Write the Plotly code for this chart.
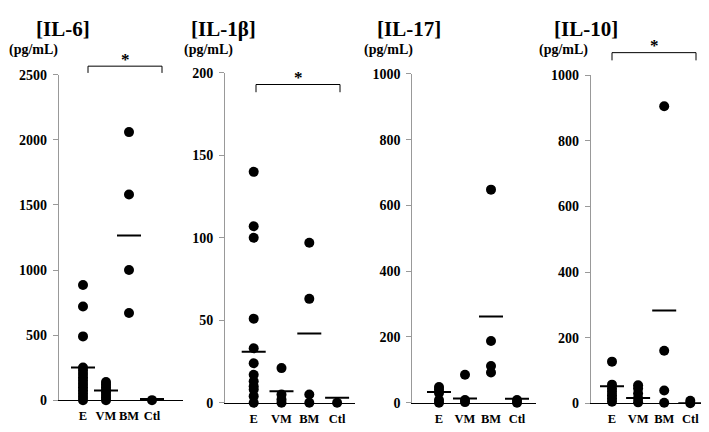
import plotly.graph_objects as go

W, H = 709, 432

categories = ["E", "VM", "BM", "Ctl"]

# [IL-6]
il6_E = [885, 720, 490, 250, 225, 200, 175, 150, 125, 100, 75, 50, 25, 0, -30]
il6_VM = [140, 120, 100, 80, 60, 40, 20, 0]
il6_BM = [2060, 1580, 1000, 670]
il6_Ctl = [0]
il6_means = [250, 75, 1265, 8]

# [IL-1β]
il1b_E = [140, 107, 100, 51, 33, 24, 17, 13, 10, 8, 4, 0]
il1b_VM = [21, 5, 2, 0]
il1b_BM = [97, 63, 5, 0]
il1b_Ctl = [0]
il1b_means = [31, 7, 42, 3]

# [IL-17]
il17_E = [48, 40, 30, 8, 0, -8, -14]
il17_VM = [85, 8, 2, -4]
il17_BM = [648, 188, 112, 92]
il17_Ctl = [8, 0, -6]
il17_means = [33, 13, 262, 12]

# [IL-10]
il10_E = [127, 57, 45, 35, 25, 15, 5]
il10_VM = [55, 45, 30, 15, 3]
il10_BM = [905, 160, 39, 2]
il10_Ctl = [8, 0]
il10_means = [52, 16, 283, 0]

titles = ["[IL-6]", "[IL-1β]", "[IL-17]", "[IL-10]"]
y_tops = [2500, 200, 1000, 1000]
y_steps = [500, 50, 200, 200]

panels = [
    dict(title=titles[0], data=[il6_E, il6_VM, il6_BM, il6_Ctl], means=il6_means,
         top=y_tops[0], step=y_steps[0],
         px=dict(x0=50.7, x1=175, xE=75, unit=23.0, y0=399, y1=62),
         title_px=(27, 15), unit_px=(0, 36), bracket=(80, 154, 53, 60)),
    dict(title=titles[1], data=[il1b_E, il1b_VM, il1b_BM, il1b_Ctl], means=il1b_means,
         top=y_tops[1], step=y_steps[1],
         px=dict(x0=217, x1=346.7, xE=245.7, unit=27.8, y0=401.7, y1=60),
         title_px=(182, 15), unit_px=(175, 36), bracket=(248, 332, 72, 80)),
    dict(title=titles[2], data=[il17_E, il17_VM, il17_BM, il17_Ctl], means=il17_means,
         top=y_tops[2], step=y_steps[2],
         px=dict(x0=404.3, x1=528, xE=431, unit=26.0, y0=401.7, y1=61),
         title_px=(368, 15), unit_px=(355, 36), bracket=None),
    dict(title=titles[3], data=[il10_E, il10_VM, il10_BM, il10_Ctl], means=il10_means,
         top=y_tops[3], step=y_steps[3],
         px=dict(x0=582.7, x1=705, xE=604, unit=26.1, y0=402.3, y1=62.3),
         title_px=(545, 15), unit_px=(530, 36), bracket=(604, 688, 39, 47)),
]

FONT = "Liberation Serif, Times New Roman, serif"
fig = go.Figure()
annotations = []
shapes = []

for i, p in enumerate(panels):
    n = "" if i == 0 else str(i + 1)
    xa, ya = "x" + n, "y" + n
    q = p["px"]
    lo = 1 - (q["xE"] - q["x0"]) / q["unit"]
    hi = lo + (q["x1"] - q["x0"]) / q["unit"]
    half = 12.0 / q["unit"]
    for k, vals in enumerate(p["data"]):
        fig.add_trace(go.Scatter(
            x=[k + 1] * len(vals), y=vals, mode="markers",
            marker=dict(color="black", size=10, line=dict(width=0)),
            cliponaxis=False, showlegend=False, xaxis=xa, yaxis=ya, hoverinfo="y"))
        m = p["means"][k]
        fig.add_trace(go.Scatter(
            x=[k + 1 - half, k + 1 + half], y=[m, m], mode="lines",
            line=dict(color="black", width=2), cliponaxis=False,
            showlegend=False, xaxis=xa, yaxis=ya, hoverinfo="skip"))
    fig.layout["xaxis" + n] = dict(
        domain=[q["x0"] / W, q["x1"] / W], range=[lo, hi], anchor=ya,
        tickvals=[1, 2, 3, 4], ticktext=categories, ticks="", tickangle=0,
        showgrid=False, zeroline=False, showline=True, linecolor="black", linewidth=1.2,
        tickfont=dict(family=FONT, size=12.5, color="black", weight="bold"),
        ticklabelstandoff=4, fixedrange=True)
    fig.layout["yaxis" + n] = dict(
        domain=[1 - q["y0"] / H, 1 - q["y1"] / H], range=[0, p["top"]], anchor=xa,
        tickvals=list(range(0, p["top"] + 1, p["step"])),
        ticks="outside", ticklen=5, tickcolor="#999999", tickwidth=1,
        showgrid=False, zeroline=False, showline=True, linecolor="#999999", linewidth=1,
        tickfont=dict(family=FONT, size=14, color="black", weight="bold"),
        ticklabelstandoff=3, fixedrange=True)
    tx, ty = p["title_px"]
    annotations.append(dict(text="<b>" + p["title"] + "</b>", x=tx / W, y=1 - ty / H,
                            xref="paper", yref="paper", showarrow=False,
                            xanchor="left", yanchor="middle", borderpad=0,
                            font=dict(family=FONT, size=21, color="black")))
    ux, uy = p["unit_px"]
    annotations.append(dict(text="<b>(pg/mL)</b>", x=ux / W, y=1 - uy / H,
                            xref="paper", yref="paper", showarrow=False,
                            xanchor="left", yanchor="middle", borderpad=0,
                            font=dict(family=FONT, size=14, color="black")))
    if p["bracket"]:
        bx0, bx1, by, byt = p["bracket"]
        path = "M {a},{b} L {a},{c} L {d},{c} L {d},{b}".format(
            a=bx0 / W, b=1 - byt / H, c=1 - by / H, d=bx1 / W)
        shapes.append(dict(type="path", path=path, xref="paper", yref="paper",
                           line=dict(color="black", width=1)))
        annotations.append(dict(text="<b>*</b>", x=(bx0 + bx1) / 2 / W, y=1 - (by - 7) / H,
                                xref="paper", yref="paper", showarrow=False,
                                xanchor="center", yanchor="middle",
                                font=dict(family=FONT, size=17, color="black")))

fig.update_layout(width=W, height=H, margin=dict(l=0, r=0, t=0, b=0),
                  paper_bgcolor="white", plot_bgcolor="white",
                  annotations=annotations, shapes=shapes, showlegend=False)
fig.write_html("out.html")
